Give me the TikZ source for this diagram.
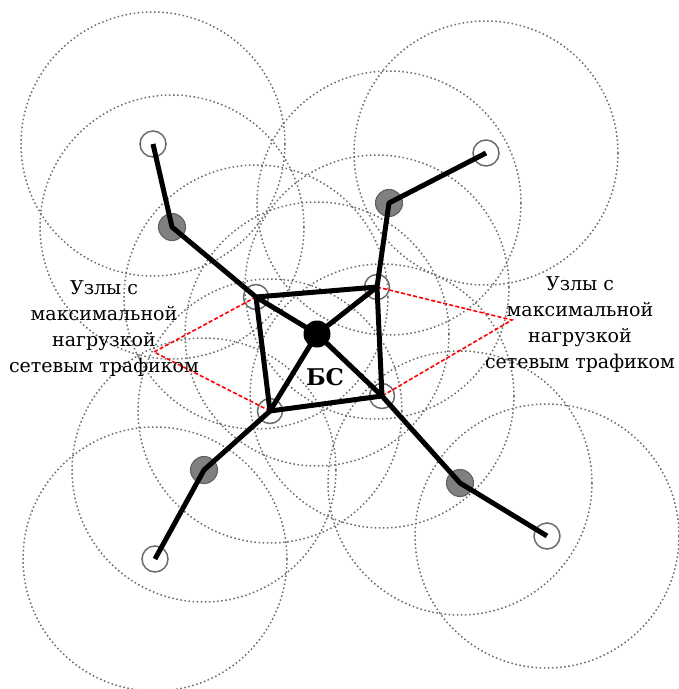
\documentclass[tikz,border=0pt]{standalone}
\usepackage{fontspec}
\setmainfont{DejaVu Serif}
\begin{document}
\begin{tikzpicture}[x=1pt,y=-1pt,
  rangecircle/.style={draw=black!58, line width=1.5pt, dash pattern=on 1.5pt off 2.6pt},
  hollow/.style={circle, draw=black!58, line width=1.5pt, minimum size=26pt, inner sep=0pt},
  relay/.style={circle, draw=black!62, fill=black!50, line width=1.1pt, minimum size=27pt, inner sep=0pt},
  bsnode/.style={circle, fill=black, minimum size=27pt, inner sep=0pt},
  link/.style={line width=5pt, black, line join=round},
  loadline/.style={red, line width=1.6pt, dash pattern=on 4pt off 2.2pt},
  lbl/.style={align=center, font=\fontsize{19}{25.7}\selectfont, inner sep=0pt}]
\useasboundingbox (0,0) rectangle (679,689);
% positions
\coordinate (pbs) at (317,334);
\coordinate (pctl) at (256,297);
\coordinate (pctr) at (377,287);
\coordinate (pcbr) at (382,396);
\coordinate (pcbl) at (270,411);
\coordinate (ptlg) at (172,227);
\coordinate (ptrg) at (389,203);
\coordinate (pblg) at (204,470);
\coordinate (pbrg) at (460,483);
\coordinate (ptlh) at (153,144);
\coordinate (ptrh) at (486,153);
\coordinate (pblh) at (155,559);
\coordinate (pbrh) at (547,536);
% range circles
\foreach \p in {pbs,pctl,pctr,pcbr,pcbl,ptlg,ptrg,pblg,pbrg,ptlh,ptrh,pblh,pbrh}
  \draw[rangecircle] (\p) circle[radius=132];
% nodes
\node[bsnode] (bs) at (pbs) {};
\node[hollow, minimum size=25pt] (ctl) at (pctl) {};
\node[hollow, minimum size=25pt] (ctr) at (pctr) {};
\node[hollow, minimum size=25pt] (cbr) at (pcbr) {};
\node[hollow, minimum size=25pt] (cbl) at (pcbl) {};
\node[relay] (tlg) at (ptlg) {};
\node[relay] (trg) at (ptrg) {};
\node[relay] (blg) at (pblg) {};
\node[relay] (brg) at (pbrg) {};
\node[hollow] (tlh) at (ptlh) {};
\node[hollow] (trh) at (ptrh) {};
\node[hollow] (blh) at (pblh) {};
\node[hollow] (brh) at (pbrh) {};
% red dashed
\coordinate (rl) at (154,352);
\coordinate (rr) at (512,320);
\draw[loadline] (ctl.center) -- (rl) -- (cbl.center);
\draw[loadline] (ctr.center) -- (rr) -- (cbr.center);
% links
\draw[link] (tlh.center) -- (tlg.center) -- (ctl.center) -- (bs.center) -- (cbr.center) -- (brg.center) -- (brh.center);
\draw[link] (trh.center) -- (trg.center) -- (ctr.center) -- (cbr.center);
\draw[link] (ctr.center) -- (bs.center) -- (cbl.center) -- (blg.center) -- (blh.center);
\draw[link] (ctl.center) -- (ctr.center);
\draw[link] (cbr.center) -- (cbl.center) -- (ctl.center);
% labels
\node[font=\fontsize{23}{23}\selectfont\bfseries, anchor=base] (bslabel) at (325,385) {БС};
\node[lbl, anchor=base] (leftlabel) at (104,372) {Узлы с\\максимальной\\нагрузкой\\сетевым трафиком};
\node[lbl, anchor=base] (rightlabel) at (580,368) {Узлы с\\максимальной\\нагрузкой\\сетевым трафиком};
\end{tikzpicture}
\end{document}
